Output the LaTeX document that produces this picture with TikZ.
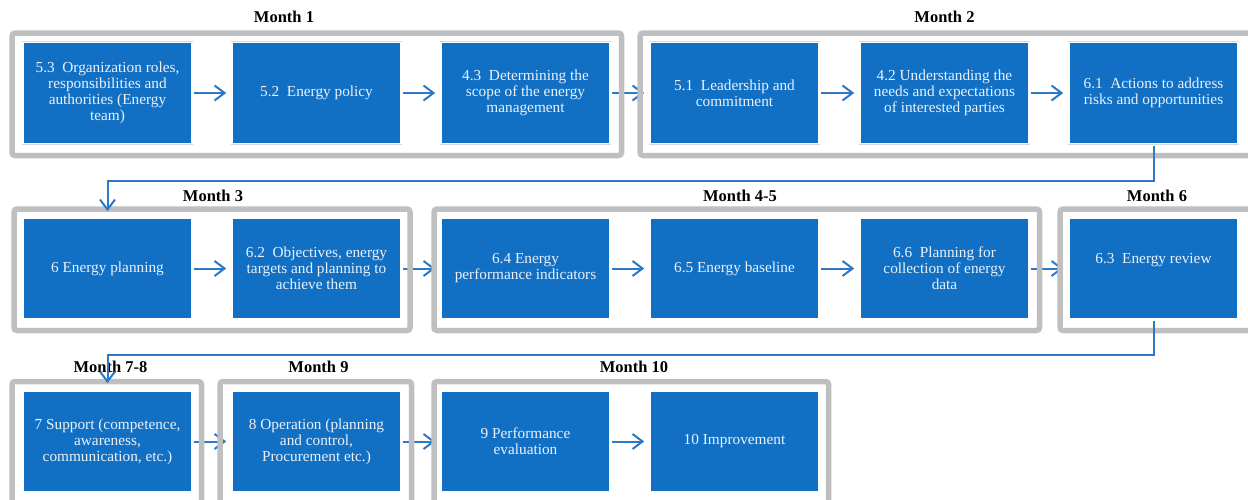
\documentclass[tikz,border=0pt]{standalone}
\usepackage{fontspec}
\setmainfont{Liberation Serif}
\usetikzlibrary{arrows.meta}
\definecolor{boxblue}{RGB}{17,112,196}
\definecolor{flowblue}{RGB}{46,120,200}
\definecolor{framegray}{RGB}{191,191,191}
\definecolor{boxtext}{RGB}{236,241,248}
\definecolor{boxedge}{RGB}{215,215,215}
\begin{document}
\begin{tikzpicture}[x=1pt,y=-1pt,
  stepbox/.style={draw=white, line width=1.6pt, fill=boxblue,
    preaction={draw=boxedge, line width=2.8pt},
    minimum width=169pt, minimum height=101pt, inner sep=2pt,
    text=boxtext, align=center, font=\fontsize{15.3}{16}\selectfont},
  phasefill/.style={fill=white, rounded corners=3pt},
  phase/.style={draw=framegray, line width=5.5pt, rounded corners=3pt},
  phasetitle/.style={font=\fontsize{16.5}{18}\selectfont\bfseries, inner sep=0pt},
  flow/.style={draw=flowblue, line width=2pt, shorten <=1.5pt, shorten >=5pt,
    -{Straight Barb[length=10pt,width=15pt,line width=2pt]}},
  route/.style={flow, shorten >=6pt}]
\useasboundingbox (0,0) rectangle (1248,499);
\clip (0,0) rectangle (1248,499);

% phase frame outlines, reused for fill and stroke
\def\phaseframes#1{%
  \path[#1] (12,33) rectangle (621.5,155.5);
  \path[#1] (640,33) rectangle (1262,155.5);
  \path[#1] (14,209) rectangle (410,330.5);
  \path[#1] (434,209) rectangle (1039.5,330.5);
  \path[#1] (1060,209) rectangle (1262,330.5);
  \path[#1] (12,381.5) rectangle (201.5,512);
  \path[#1] (220,381.5) rectangle (411.5,512);
  \path[#1] (434,381.5) rectangle (828.5,512);}
\phaseframes{phasefill}

% row 1
\node[stepbox] (b11) at (107.5,93) {5.3\enspace Organization roles,\\responsibilities and\\authorities (Energy\\team)};
\node[stepbox] (b12) at (316.5,93) {5.2\enspace Energy policy};
\node[stepbox] (b13) at (525.5,93) {4.3\enspace Determining the\\scope of the energy\\management};
\node[stepbox] (b14) at (734.5,93) {5.1\enspace Leadership and\\commitment};
\node[stepbox] (b15) at (944.5,93) {4.2 Understanding the\\needs and expectations\\of interested parties};
\node[stepbox] (b16) at (1153.5,93) {6.1\enspace Actions to address\\risks and opportunities};

% row 2
\node[stepbox] (b21) at (107.5,268.5) {6 Energy planning};
\node[stepbox] (b22) at (316.5,268.5) {6.2\enspace Objectives, energy\\targets and planning to\\achieve them};
\node[stepbox] (b23) at (525.5,268.5) {6.4 Energy\\performance indicators};
\node[stepbox] (b24) at (734.5,268.5) {6.5 Energy baseline};
\node[stepbox] (b25) at (944.5,268.5) {6.6\enspace Planning for\\collection of energy\\data};
\node[stepbox] (b26) at (1153.5,268.5) {6.3\enspace Energy review\\\strut};

% row 3
\node[stepbox] (b31) at (107.5,441.5) {7 Support (competence,\\awareness,\\communication, etc.)};
\node[stepbox] (b32) at (316.5,441.5) {8 Operation (planning\\and control,\\Procurement etc.)};
\node[stepbox] (b33) at (525.5,441.5) {9 Performance\\evaluation};
\node[stepbox] (b34) at (734.5,441.5) {10 Improvement};

% flow arrows between neighbouring steps
\draw[flow] (b11) -- (b12);
\draw[flow] (b12) -- (b13);
\draw[flow] (b13) -- (b14);
\draw[flow] (b14) -- (b15);
\draw[flow] (b15) -- (b16);
\draw[flow] (b21) -- (b22);
\draw[flow] (b22) -- (b23);
\draw[flow] (b23) -- (b24);
\draw[flow] (b24) -- (b25);
\draw[flow] (b25) -- (b26);
\draw[flow] (b31) -- (b32);
\draw[flow] (b32) -- (b33);
\draw[flow] (b33) -- (b34);

% frame borders over the crossing arrows
\phaseframes{phase}

% phase titles
\node[phasetitle] (t1) at (284,17) {Month 1};
\node[phasetitle] (t2) at (944.5,17) {Month 2};
\node[phasetitle] (t3) at (213,196) {Month 3};
\node[phasetitle] (t45) at (740,196) {Month 4-5};
\node[phasetitle] (t6) at (1157,196) {Month 6};
\node[phasetitle] (t78) at (110.5,367) {Month 7-8};
\node[phasetitle] (t9) at (318.5,367) {Month 9};
\node[phasetitle] (t10) at (634,367) {Month 10};

% row-to-row connectors
\draw[route] (b16.south) -- ++(0,37) -| (b21.north);
\draw[route, shorten >=7pt] (b26.south) -- ++(0,35) -| (b31.north);
\end{tikzpicture}
\end{document}
